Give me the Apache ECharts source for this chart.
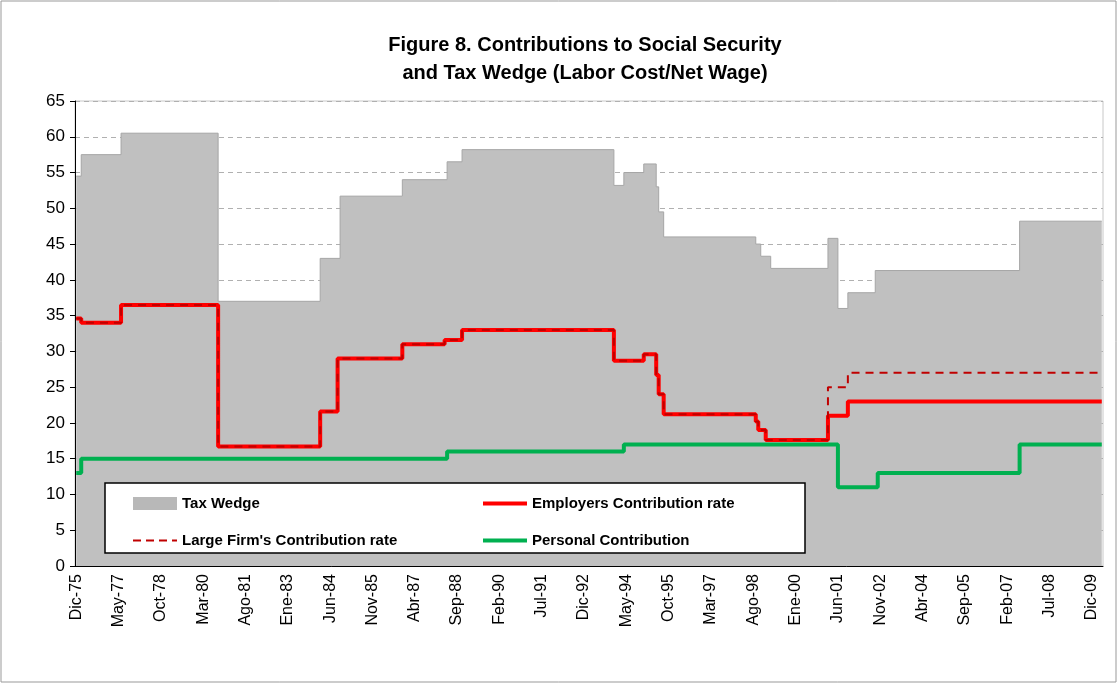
<!DOCTYPE html>
<html>
<head>
<meta charset="utf-8">
<script src="https://cdn.jsdelivr.net/npm/echarts@6/dist/echarts.min.js"></script>
<style>
html,body{margin:0;padding:0;background:#fff;}
#chart{width:1118px;height:684px;}
</style>
</head>
<body>
<div id="chart"></div>
<script>
// month names (Spanish) for the category axis, Dic-75 .. Abr-10
var monthNames = ['Ene','Feb','Mar','Abr','May','Jun','Jul','Ago','Sep','Oct','Nov','Dic'];
var firstYear = 1975, firstMonth = 11, monthCount = 413;

// change points: [month index from Dic-75, value]
var taxWedge = [[0,54.5],[2,57.5],[18,60.5],[57,37],[98,43],[106,51.7],[131,54],[149,56.5],[155,58.2],
  [216,53.2],[220,55],[228,56.2],[233,53],[234,49.5],[236,46],[273,45],[275,43.3],[279,41.6],
  [302,45.8],[306,36],[310,38.2],[321,41.3],[379,48.2],[412,48.2]];
var employers = [[0,34.6],[2,34],[18,36.5],[57,16.7],[98,21.6],[105,29],[131,31],[148,31.6],[155,33],
  [216,28.7],[228,29.6],[233,26.7],[234,24],[236,21.2],[273,20.2],[274,19],[277,17.6],
  [302,21],[310,23],[412,23]];
var largeFirm = [[0,34.6],[2,34],[18,36.5],[57,16.7],[98,21.6],[105,29],[131,31],[148,31.6],[155,33],
  [216,28.7],[228,29.6],[233,26.7],[234,24],[236,21.2],[273,20.2],[274,19],[277,17.6],
  [302,25],[310,27],[412,27]];
var personal = [[0,13],[2,15],[149,16],[220,17],[306,11],[322,13],[379,17],[412,17]];

var months = [];
for (var i = 0; i < monthCount; i++) {
  var m = (firstMonth + i) % 12;
  var y = firstYear + Math.floor((firstMonth + i) / 12);
  months.push(monthNames[m] + '-' + String(y).slice(2));
}

var solidIcon = 'path://M0,0h44v4h-44z';
var dashIcon = 'path://M0,0h8v2h-8z M13,0h8v2h-8z M26,0h8v2h-8z M39,0h5v2h-5z';

var chart = echarts.init(document.getElementById('chart'));
var font = 'Arial, "Liberation Sans", sans-serif';
var legendText = {fontFamily: font, fontSize: 15, fontWeight: 'bold', color: '#000'};
chart.setOption({
  animation: false,
  title: {
    text: 'Figure 8. Contributions to Social Security\nand Tax Wedge (Labor Cost/Net Wage)',
    left: 580, top: 26, textAlign: 'center',
    textStyle: {fontFamily: font, fontSize: 20, fontWeight: 'bold', color: '#000', lineHeight: 28}
  },
  graphic: [
    {type: 'rect', shape: {x: 1, y: 1, width: 1115, height: 681}, style: {fill: 'none', stroke: '#999', lineWidth: 1}, z: 0},
    {type: 'rect', shape: {x: 105, y: 483, width: 700, height: 70}, style: {fill: '#fff', stroke: '#000', lineWidth: 1.5}, z: 50}
  ],
  legend: [
    {left: 128, top: 491, orient: 'vertical', itemGap: 22, itemWidth: 44, itemHeight: 13, z: 60,
      textStyle: legendText,
      data: [{name: 'Tax Wedge', icon: 'rect'}, {name: "Large Firm's Contribution rate", icon: dashIcon}]},
    {left: 478, top: 491, orient: 'vertical', itemGap: 22, itemWidth: 44, itemHeight: 13, z: 60,
      textStyle: legendText,
      data: [{name: 'Employers Contribution rate', icon: solidIcon}, {name: 'Personal Contribution', icon: solidIcon}]}
  ],
  grid: {left: 75, right: 15, top: 101, bottom: 118, show: true, borderColor: '#c8c8c8', borderWidth: 1},
  xAxis: {
    type: 'category', data: months, boundaryGap: true,
    axisLine: {lineStyle: {color: '#000'}},
    axisTick: {show: false},
    axisLabel: {interval: 16, rotate: 90, fontFamily: font, fontSize: 16, color: '#000', margin: 8}
  },
  yAxis: {
    type: 'value', min: 0, max: 65, interval: 5,
    axisLine: {show: true, lineStyle: {color: '#000'}},
    axisTick: {show: true, length: 5, lineStyle: {color: '#000'}},
    axisLabel: {fontFamily: font, fontSize: 17, color: '#000', margin: 10},
    splitLine: {lineStyle: {color: '#b0b0b0', type: [5, 4]}}
  },
  series: [
    {name: 'Tax Wedge', type: 'line', step: 'end', data: taxWedge, symbol: 'none',
      lineStyle: {color: '#a6a6a6', width: 1}, itemStyle: {color: '#b8b8b8'},
      areaStyle: {color: '#c0c0c0', opacity: 1}, z: 1},
    {name: 'Employers Contribution rate', type: 'line', step: 'end', data: employers, symbol: 'none',
      lineStyle: {color: '#ff0000', width: 4}, itemStyle: {color: '#ff0000'}, z: 3},
    {name: "Large Firm's Contribution rate", type: 'line', step: 'end', data: largeFirm, symbol: 'none',
      lineStyle: {color: '#c00000', width: 2, type: [8, 6]}, itemStyle: {color: '#c00000'}, z: 4},
    {name: 'Personal Contribution', type: 'line', step: 'end', data: personal, symbol: 'none',
      lineStyle: {color: '#00b050', width: 4}, itemStyle: {color: '#00b050'}, z: 5}
  ]
});
</script>
</body>
</html>
